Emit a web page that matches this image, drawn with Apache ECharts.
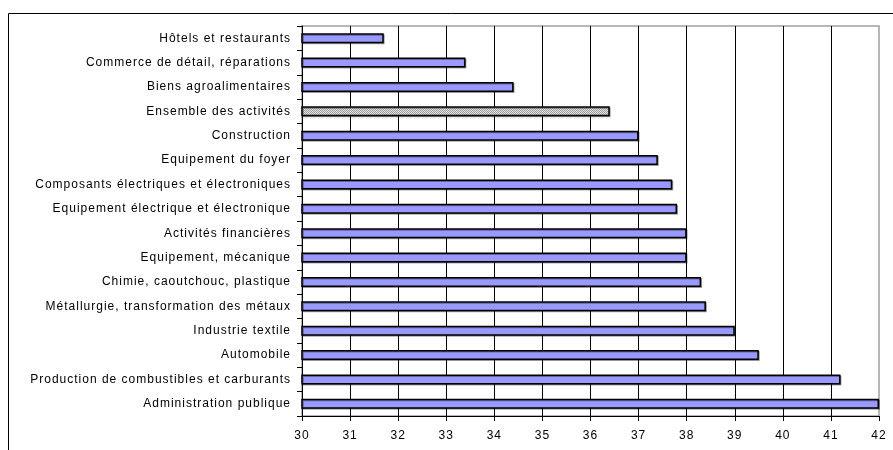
<!DOCTYPE html>
<html>
<head>
<meta charset="utf-8">
<script src="https://cdn.jsdelivr.net/npm/echarts@6/dist/echarts.min.js"></script>
<style>
  html, body { margin: 0; padding: 0; background: #fff; }
  #chart { width: 893px; height: 450px; }
</style>
</head>
<body>
<div id="chart"></div>
<script>
// Sectors, top to bottom
const categories = [
  'Hôtels et restaurants',
  'Commerce de détail, réparations',
  'Biens agroalimentaires',
  'Ensemble des activités',
  'Construction',
  'Equipement du foyer',
  'Composants électriques et électroniques',
  'Equipement électrique et électronique',
  'Activités financières',
  'Equipement, mécanique',
  'Chimie, caoutchouc, plastique',
  'Métallurgie, transformation des métaux',
  'Industrie textile',
  'Automobile',
  'Production de combustibles et carburants',
  'Administration publique'
];
const values = [31.7, 33.4, 34.4, 36.4, 37.0, 37.4, 37.7, 37.8, 38.0, 38.0, 38.3, 38.4, 39.0, 39.5, 41.2, 42.0];
// The "all activities" bar is highlighted with a grey stipple
const highlightCategory = 'Ensemble des activités';
const axisMin = 30;
const axisMax = 42;
const axisStep = 1;

// Loosen the tracking of all canvas text a little (wide, spreadsheet-style lettering)
(function () {
  const proto = CanvasRenderingContext2D.prototype;
  const desc = Object.getOwnPropertyDescriptor(proto, 'font');
  if (desc && 'letterSpacing' in proto) {
    Object.defineProperty(proto, 'font', {
      configurable: true,
      get() { return desc.get.call(this); },
      set(v) { desc.set.call(this, v); this.letterSpacing = '1px'; }
    });
  }
})();

// small stipple pattern for the highlighted bar
function makeStipple() {
  const c = document.createElement('canvas');
  c.width = 2; c.height = 2;
  const g = c.getContext('2d');
  g.fillStyle = '#e6e6e6'; g.fillRect(0, 0, 2, 2);
  g.fillStyle = '#9a9a9a';
  g.fillRect(0, 0, 1, 1);
  g.fillRect(1, 1, 1, 1);
  return c;
}
const stipple = { image: makeStipple(), repeat: 'repeat' };

const font = '"Liberation Sans", Arial, sans-serif';
const chart = echarts.init(document.getElementById('chart'), null, { renderer: 'canvas' });

chart.setOption({
  animation: false,
  backgroundColor: '#fff',
  graphic: [{
    type: 'rect',
    shape: { x: 8.5, y: 13.5, width: 1000, height: 1000 },
    style: { fill: 'none', stroke: '#000', lineWidth: 1 },
    silent: true,
    z: 0
  }],
  grid: {
    left: 302, right: 14, top: 26, bottom: 34,
    show: true, borderColor: '#a0a0a0', borderWidth: 1.5, backgroundColor: 'transparent'
  },
  xAxis: {
    type: 'value',
    min: axisMin, max: axisMax, interval: axisStep,
    axisLine: { show: true, lineStyle: { color: '#000', width: 1 } },
    axisTick: { show: true, length: 5, lineStyle: { color: '#000' } },
    axisLabel: { color: '#000', fontFamily: font, fontSize: 12, margin: 13 },
    splitLine: { show: true, showMinLine: false, showMaxLine: false, lineStyle: { color: '#000', width: 1 } }
  },
  yAxis: {
    type: 'category',
    data: categories,
    inverse: true,
    axisLine: { show: true, lineStyle: { color: '#000', width: 1 } },
    axisTick: { show: true, length: 5, lineStyle: { color: '#000' } },
    axisLabel: { color: '#000', fontFamily: font, fontSize: 12, margin: 11 },
    splitLine: { show: false }
  },
  series: [{
    type: 'bar',
    barWidth: 10,
    data: values.map((v, i) => ({
      value: v,
      itemStyle: categories[i] === highlightCategory ? { color: stipple } : undefined
    })),
    itemStyle: {
      color: '#9999ff',
      borderColor: '#000',
      borderWidth: 1.5,
      shadowColor: 'rgba(0,0,0,0.35)',
      shadowOffsetX: 1,
      shadowOffsetY: 1,
      shadowBlur: 0
    }
  }]
});
</script>
</body>
</html>
